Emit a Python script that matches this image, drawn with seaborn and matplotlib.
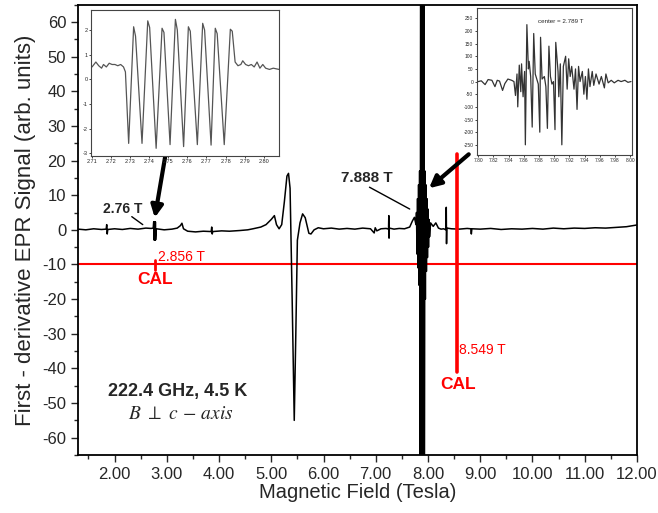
import matplotlib
matplotlib.use("Agg")
import matplotlib.pyplot as plt
from matplotlib.ticker import MultipleLocator, FormatStrFormatter
import seaborn as sns

# main EPR trace (field in T, signal in arb. units)
field = [1.30, 1.45, 1.60, 1.75, 1.84, 1.85, 1.86, 1.87, 2.00, 2.15, 2.30, 2.45, 2.60, 2.70, 2.74,
         2.750, 2.754, 2.758, 2.762, 2.766, 2.770, 2.774, 2.778, 2.782, 2.786,
         2.80, 2.95, 3.10, 3.20, 3.26, 3.29, 3.32, 3.40, 3.55, 3.70, 3.85, 3.86, 3.87, 3.88,
         4.05, 4.20, 4.40, 4.55, 4.65, 4.80, 4.90, 5.00, 5.06, 5.10, 5.15, 5.20, 5.25, 5.30,
         5.33, 5.36, 5.40, 5.44, 5.47, 5.50, 5.55, 5.60, 5.65, 5.72, 5.76, 5.82, 5.90, 6.00,
         6.15, 6.30, 6.45, 6.60, 6.75, 6.90, 6.97, 6.99, 7.02, 7.10, 7.20, 7.245, 7.25, 7.255,
         7.26, 7.35, 7.45, 7.55, 7.65, 7.70, 7.74, 7.77,
         7.78, 7.79, 7.80, 7.81, 7.82, 7.83, 7.84, 7.85, 7.86, 7.87, 7.88, 7.89, 7.90, 7.91,
         7.92, 7.93, 7.94, 7.95, 7.96, 7.97, 7.98, 7.99, 8.00, 8.01, 8.02, 8.03,
         8.05, 8.10, 8.15, 8.20, 8.25, 8.30, 8.345, 8.35, 8.355, 8.36, 8.45, 8.60, 8.75, 8.82,
         8.83, 8.84, 9.00, 9.20, 9.40, 9.60, 9.80, 10.00, 10.20, 10.40, 10.60, 10.80, 11.00,
         11.20, 11.40, 11.60, 11.80, 12.00]
signal = [0.2, 0.0, 0.3, 0.1, 0.2, 1.5, -1.2, 0.1, 0.3, 0.1, 0.4, 0.2, 0.5, 0.4, 0.5,
          2.3, -2.9, 2.3, -2.9, 2.3, -2.9, 2.3, -2.9, 2.3, -2.9,
          0.3, 0.0, 0.2, 0.5, 1.2, 1.9, 0.3, -0.4, -0.6, -0.4, -0.5, 0.8, -1.2, -0.5,
          -0.3, -0.4, -0.2, 0.0, 0.3, 0.8, 1.5, 3.0, 4.1, 1.5, 0.3, 1.5, 8.0, 15.5,
          16.3, 12.0, -20.0, -55.0, -30.0, -3.0, 2.0, 4.6, 3.5, -1.0, -1.2, 0.0, 0.6, 0.3,
          0.5, 0.2, 0.4, 0.2, 0.5, 0.3, -0.9, 0.6, -0.3, 0.3, 0.4, 0.2, 4.1, -2.4,
          0.5, 0.2, 0.4, 0.3, 0.8, 2.5, 3.6, 1.5,
          5, -7, 9, -11, 13, -16, 17, -100, 100, -100, 100, -100, 100, -100,
          100, -100, 17, -20, 13, -12, 9, -8, 6, -5, 3, -2,
          2.0, 1.0, 2.0, 0.5, 0.2, 0.3, 0.0, 6.5, -4.0, 0.5, 0.3, 0.2, 0.4, 0.3,
          -1.2, 0.3, 0.2, 0.4, 0.1, 0.3, 0.2, 0.4, 0.2, 0.5, 0.3, 0.5, 0.4,
          0.6, 0.5, 0.7, 0.9, 1.4]

# inset around 2.76 T
zoom1_field = [2.710, 2.712, 2.7135, 2.715, 2.716, 2.7175, 2.719, 2.7205, 2.722, 2.7235, 2.725,
               2.7265, 2.7275, 2.7292, 2.7318, 2.7328, 2.7362, 2.7392, 2.7402, 2.7436, 2.7467,
               2.7477, 2.7509, 2.7537, 2.7547, 2.7580, 2.7605, 2.7615, 2.7652, 2.7680, 2.7690,
               2.7724, 2.7746, 2.7756, 2.7793, 2.7825, 2.7835, 2.7850, 2.7865, 2.7880, 2.7890,
               2.7905, 2.7920, 2.7935, 2.7950, 2.7965, 2.7980, 2.7995, 2.8010, 2.8030, 2.8050,
               2.8080]
zoom1_signal = [0.5, 0.7, 0.55, 0.45, 0.6, 0.5, 0.65, 0.6, 0.6, 0.55, 0.6,
                0.5, 0.3, -2.6, 2.13, 1.75, -2.6, 2.37, 2.1, -2.8, 2.07,
                1.9, -2.65, 2.43, 2.0, -2.73, 2.13, 1.95, -2.65, 2.27, 2.0,
                -2.67, 2.07, 1.85, -2.65, 2.03, 1.95, 0.7, 0.55, 0.6, 0.75,
                0.6, 0.55, 0.6, 0.5, 0.7, 0.45, 0.6, 0.45, 0.4, 0.45,
                0.4]

# inset around 7.888 T
zoom2_field = [7.800, 7.804, 7.809, 7.813, 7.818, 7.822, 7.825, 7.828, 7.832, 7.835, 7.839,
               7.844, 7.847, 7.849, 7.851, 7.852, 7.854, 7.856, 7.857, 7.859, 7.861, 7.862,
               7.864, 7.866, 7.867, 7.869, 7.871, 7.873, 7.875, 7.877, 7.879, 7.881, 7.882,
               7.884, 7.887, 7.889, 7.891, 7.893, 7.895, 7.897, 7.899, 7.901, 7.902, 7.905,
               7.906, 7.908, 7.910, 7.912, 7.915, 7.917, 7.919, 7.921, 7.923, 7.926, 7.928,
               7.930, 7.932, 7.934, 7.937, 7.939, 7.941, 7.943, 7.945, 7.947, 7.950, 7.952,
               7.955, 7.959, 7.962, 7.966, 7.968, 7.971, 7.975, 7.979, 7.984, 7.988, 7.993,
               7.997, 8.001]
zoom2_signal = [0, 3, -12, 8, 5, -20, 5, 2, -35, -8, 10,
                5, 0, -55, 30, -100, 65, -40, 70, -60, 40, -250,
                225, 50, 80, 20, -180, 190, 30, 10, -10, -200, 175,
                10, 20, -20, -185, 140, 20, -10, 0, -190, 155, 40,
                -60, 70, -250, 60, 100, -30, 90, 20, 60, -30, 50,
                -110, 60, 0, 40, -50, 20, -70, 50, -20, 40, -15,
                30, -10, 20, -25, 30, -5, 5, -5, 5, 0, 5,
                -3, 0]

cal_fields = [2.78, 8.549]
peak_labels = ["2.76 T", "7.888 T"]

sns.set_style("ticks")
plt.rcParams["font.family"] = ["Liberation Sans", "DejaVu Sans"]
plt.rcParams["mathtext.fontset"] = "stix"
plt.rcParams["axes.unicode_minus"] = False

fig = plt.figure(figsize=(6.58, 5.13), dpi=100)
ax = fig.add_axes([0.1185, 0.113, 0.8495, 0.878])

sns.lineplot(x=field, y=signal, ax=ax, color="black", lw=1.1, estimator=None, sort=False)

# calibration marks
ax.axhline(-10, color="red", lw=1.5, zorder=1)
ax.plot([cal_fields[0], cal_fields[0]], [-8.6, -11.6], color="red", lw=2)
ax.plot([cal_fields[1], cal_fields[1]], [22, -41], color="red", lw=2.6)
ax.text(2.83, -7.8, "2.856 T", color="red", fontsize=10, va="center")
ax.text(2.78, -14.3, "CAL", color="red", fontsize=12.5, fontweight="bold", ha="center", va="center")
ax.text(8.60, -34.8, "8.549 T", color="red", fontsize=10, va="center")
ax.text(8.58, -44.5, "CAL", color="red", fontsize=12.5, fontweight="bold", ha="center", va="center")

# peak labels and arrows
ax.text(1.78, 6.0, peak_labels[0], fontsize=10, fontweight="bold", va="center")
ax.plot([2.33, 2.54], [3.8, 1.5], color="black", lw=1)
ax.annotate("", xy=(2.77, 3.5), xytext=(3.03, 26.5),
            arrowprops=dict(arrowstyle="-|>,head_length=0.7,head_width=0.35", lw=3, color="black",
                            shrinkA=0, shrinkB=0))
ax.text(6.34, 14.9, peak_labels[1], fontsize=11, fontweight="bold", va="center")
ax.plot([6.88, 7.65], [12.3, 6.0], color="black", lw=1)
ax.annotate("", xy=(8.02, 12.0), xytext=(8.78, 21.8),
            arrowprops=dict(arrowstyle="-|>,head_length=0.7,head_width=0.35", lw=3, color="black",
                            shrinkA=0, shrinkB=0))

ax.text(1.87, -46.7, "222.4 GHz, 4.5 K", fontsize=13, fontweight="bold", va="center")
ax.text(2.26, -53.4, r"$B\ \perp\ c\,-\,axis$", fontsize=14, va="center")

ax.set_xlim(1.3, 12.0)
ax.set_ylim(-65, 65)
ax.xaxis.set_major_locator(MultipleLocator(1))
ax.xaxis.set_minor_locator(MultipleLocator(0.5))
ax.xaxis.set_major_formatter(FormatStrFormatter("%.2f"))
ax.yaxis.set_major_locator(MultipleLocator(10))
ax.yaxis.set_minor_locator(MultipleLocator(5))
ax.tick_params(which="major", direction="out", length=5, width=1, labelsize=12, top=False, right=False)
ax.tick_params(which="minor", direction="out", length=3, width=1, top=False, right=False)
ax.set_xlabel("Magnetic Field (Tesla)", fontsize=14.5, labelpad=1)
ax.set_ylabel("First - derivative EPR Signal (arb. units)", fontsize=16, labelpad=4)
for s in ax.spines.values():
    s.set_linewidth(1.3)
    s.set_color("black")

# inset 1
ins1 = fig.add_axes([0.139, 0.696, 0.285, 0.2845])
sns.lineplot(x=zoom1_field, y=zoom1_signal, ax=ins1, color="#555555", lw=0.9, estimator=None, sort=False)
ins1.set_xlim(2.7097, 2.808)
ins1.set_ylim(-3.11, 2.81)
ins1.xaxis.set_major_locator(MultipleLocator(0.01))
ins1.xaxis.set_major_formatter(FormatStrFormatter("%.2f"))
ins1.yaxis.set_major_locator(MultipleLocator(1))
ins1.tick_params(labelsize=4, length=1.5, width=0.6, pad=1)
for s in ins1.spines.values():
    s.set_linewidth(0.8)
    s.set_color("#444444")

# inset 2
ins2 = fig.add_axes([0.7245, 0.698, 0.2356, 0.286])
sns.lineplot(x=zoom2_field, y=zoom2_signal, ax=ins2, color="#333333", lw=0.9, estimator=None, sort=False)
ins2.set_xlim(7.798, 8.002)
ins2.set_ylim(-290, 290)
ins2.xaxis.set_major_locator(MultipleLocator(0.02))
ins2.xaxis.set_major_formatter(FormatStrFormatter("%.2f"))
ins2.yaxis.set_major_locator(MultipleLocator(50))
ins2.tick_params(labelsize=3.5, length=1.5, width=0.6, pad=1)
ins2.text(7.908, 237, "center = 2.789 T", fontsize=4.5, ha="center", va="center")
for s in ins2.spines.values():
    s.set_linewidth(0.8)
    s.set_color("#444444")

fig.savefig("out.png", dpi=100)
